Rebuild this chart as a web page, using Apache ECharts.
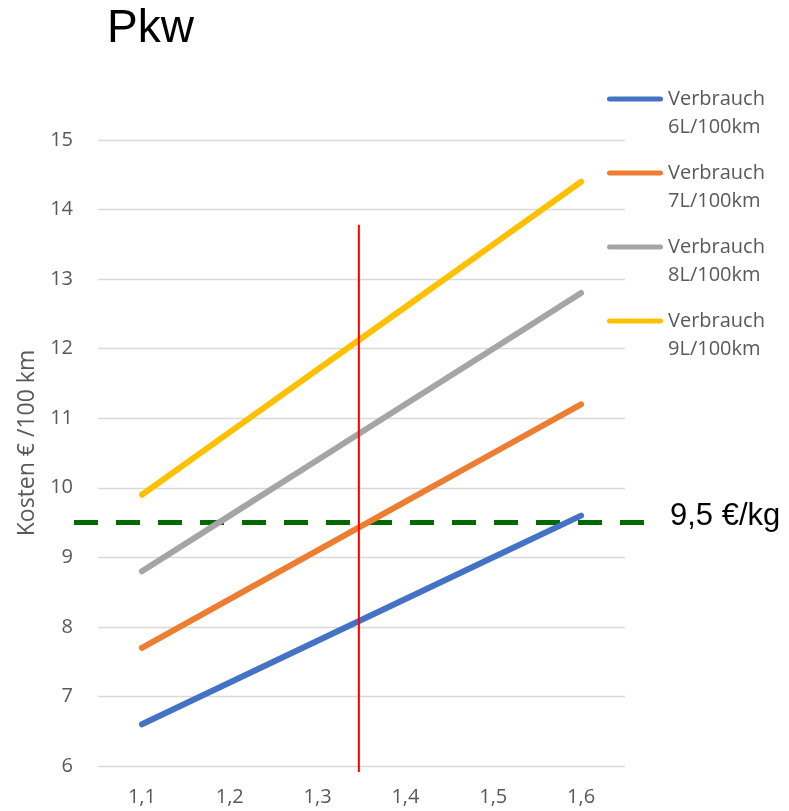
<!DOCTYPE html>
<html>
<head>
<meta charset="utf-8">
<script src="https://cdn.jsdelivr.net/npm/echarts@6/dist/echarts.min.js"></script>
<style>
  html, body { margin: 0; padding: 0; background: #fff; }
  #chart { width: 789px; height: 811px; }
</style>
</head>
<body>
<div id="chart"></div>
<script>
// Fuel price (€/L) on the x axis
const categories = ['1,1', '1,2', '1,3', '1,4', '1,5', '1,6'];

// Cost per 100 km for each consumption level
const cost6L = [6.6, 7.2, 7.8, 8.4, 9.0, 9.6];
const cost7L = [7.7, 8.4, 9.1, 9.8, 10.5, 11.2];
const cost8L = [8.8, 9.6, 10.4, 11.2, 12.0, 12.8];
const cost9L = [9.9, 10.8, 11.7, 12.6, 13.5, 14.4];

const seriesNames = ['Verbrauch\n6L/100km', 'Verbrauch\n7L/100km', 'Verbrauch\n8L/100km', 'Verbrauch\n9L/100km'];
const seriesColors = ['#4472C4', '#ED7D31', '#A5A5A5', '#FFC000'];

// Reference lines
const hydrogenCost = 9.5;         // horizontal dashed line
const hydrogenLabel = '9,5 €/kg';
const currentPrice = 1.347;       // vertical red line (price)
const currentPriceTop = 13.78;    // upper end of the red line

const yTicks = { min: 6, max: 15, interval: 1 };

const GRID = { left: 98, right: 164, top: 140, bottom: 45 };
const labelFont = 'Open Sans';
const grey = '#595959';

// Legend swatch: a thick bar sitting at the top of a taller box, so it lines up
// with the first line of the two-line legend text.
const legendIcon = 'path://M2.5,0 L53.5,0 A2.5,2.5 0 0 1 53.5,5 L2.5,5 A2.5,2.5 0 0 1 2.5,0 Z M0,33 L56,33';

const chart = echarts.init(document.getElementById('chart'));

const allData = [cost6L, cost7L, cost8L, cost9L];

chart.setOption({
  animation: false,
  title: {
    text: 'Pkw',
    left: 102,
    top: 1,
    textStyle: { fontFamily: 'Liberation Sans', fontSize: 46, fontWeight: 'normal', color: '#000' }
  },
  legend: {
    orient: 'vertical',
    left: 602,
    top: 80,
    itemGap: 18,
    itemWidth: 56,
    itemHeight: 33,
    icon: legendIcon,
    data: seriesNames,
    textStyle: {
      fontFamily: labelFont,
      fontSize: 20,
      color: grey,
      lineHeight: 28
    }
  },
  grid: GRID,
  xAxis: [
    {
      type: 'category',
      data: categories,
      boundaryGap: true,
      axisLine: { show: false },
      axisTick: { show: false },
      axisLabel: { fontFamily: labelFont, fontSize: 20, color: grey, margin: 21 }
    },
    {
      // numeric companion axis spanning the same bands, used for the price marker
      type: 'value',
      min: 1.05,
      max: 1.65,
      show: false
    }
  ],
  yAxis: {
    type: 'value',
    min: yTicks.min,
    max: yTicks.max,
    interval: yTicks.interval,
    name: 'Kosten € /100 km',
    nameLocation: 'middle',
    nameGap: 58,
    nameTextStyle: { fontFamily: labelFont, fontSize: 23, color: grey, padding: [0, 0, 0, 20] },
    axisLine: { show: false },
    axisTick: { show: false },
    axisLabel: { fontFamily: labelFont, fontSize: 20, color: grey, margin: 25 },
    splitLine: { lineStyle: { color: '#D9D9D9', width: 1.3 } }
  },
  series: allData.map((d, i) => ({
    name: seriesNames[i],
    type: 'line',
    data: d,
    xAxisIndex: 0,
    symbol: 'none',
    color: seriesColors[i],
    lineStyle: { width: 6, color: seriesColors[i], cap: 'round' },
    z: 3
  }))
});

function drawMarkers() {
  const yH = chart.convertToPixel({ yAxisIndex: 0 }, hydrogenCost);
  const yBottom = chart.convertToPixel({ yAxisIndex: 0 }, yTicks.min);
  const yTop = chart.convertToPixel({ yAxisIndex: 0 }, currentPriceTop);
  const xP = chart.convertToPixel({ xAxisIndex: 1 }, currentPrice);
  const W = chart.getWidth();
  const gridRight = W - GRID.right;

  chart.setOption({
    graphic: [
      {
        type: 'line',
        z: 2,
        shape: { x1: GRID.left - 24, y1: yH, x2: gridRight + 19, y2: yH },
        style: { stroke: '#006A00', lineWidth: 5, lineDash: [24, 18] }
      },
      {
        type: 'text',
        z: 5,
        style: {
          x: 670, y: yH - 6,
          text: hydrogenLabel,
          fontFamily: 'Liberation Sans',
          fontSize: 31,
          fill: '#000',
          verticalAlign: 'middle'
        }
      },
      {
        type: 'line',
        z: 4,
        shape: { x1: xP, y1: yTop, x2: xP, y2: yBottom + 6 },
        style: { stroke: '#FF0000', lineWidth: 2 }
      }
    ]
  });
}
drawMarkers();
</script>
</body>
</html>
